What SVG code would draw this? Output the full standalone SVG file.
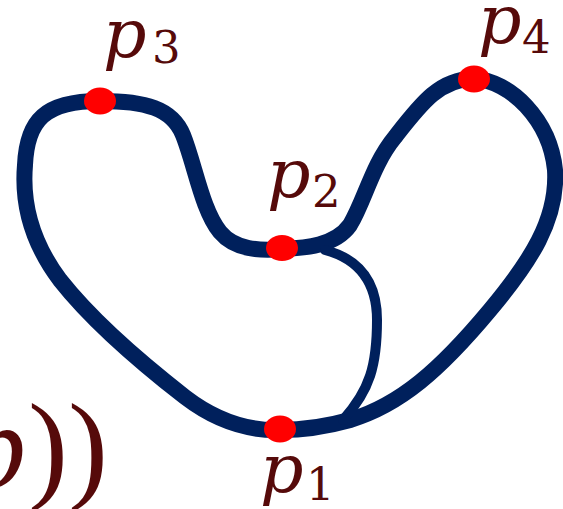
<svg xmlns="http://www.w3.org/2000/svg" width="563" height="509" viewBox="0 0 563 509">
<style>
.loop{fill:none;stroke:#00205c;stroke-width:16;stroke-linejoin:round;stroke-linecap:round}
.inner{fill:none;stroke:#00205c;stroke-width:10;stroke-linecap:round}
.dot{fill:#ff0000}
.lbl{font-family:"DejaVu Serif",serif;font-style:italic;font-size:68px;fill:#560a0a}
.sub{font-family:"DejaVu Serif",serif;font-size:45px;fill:#560a0a}
.big{font-family:"Liberation Serif",serif;font-size:120px;fill:#560a0a}
</style>
<rect width="563" height="509" fill="#ffffff"/>
<g id="connectors">
<path class="loop" d="M280,430 C245,431 215,420 185,397 C140,362 90,318 60,280 C30,240 22,200 25,165 C27,120 45,101 100,101 C145,101 172,108 183,135 C195,165 202,210 220,232 C235,250 260,251 283,249 C305,248 335,246 350,225 C365,200 372,165 395,137 C420,105 440,78 474,79 C510,80 550,120 555,170 C558,220 530,262 490,310 C440,370 400,405 350,420 C325,427 300,430 280,430 Z"/>
<path class="inner" d="M325,250 C355,258 377,278 377,320 C377,365 370,390 343,420"/>
</g>
<g id="p1"><ellipse class="dot" cx="280" cy="429" rx="16" ry="13.5"/><text class="lbl" x="260" y="492">p</text><text class="sub" x="306" y="500">1</text></g>
<g id="p2"><ellipse class="dot" cx="282" cy="248" rx="16" ry="13"/><text class="lbl" x="267" y="197">p</text><text class="sub" x="312" y="207">2</text></g>
<g id="p3"><ellipse class="dot" cx="100" cy="101" rx="16" ry="13.5"/><text class="lbl" x="103" y="57">p</text><text class="sub" x="152" y="63">3</text></g>
<g id="p4"><ellipse class="dot" cx="474" cy="79" rx="16" ry="13.5"/><text class="lbl" x="478" y="43">p</text><text class="sub" x="522" y="53">4</text></g>
<g id="fragment"><text class="big" font-style="italic" x="-34" y="487">p</text><text class="big" x="28" y="487">))</text></g>
</svg>
